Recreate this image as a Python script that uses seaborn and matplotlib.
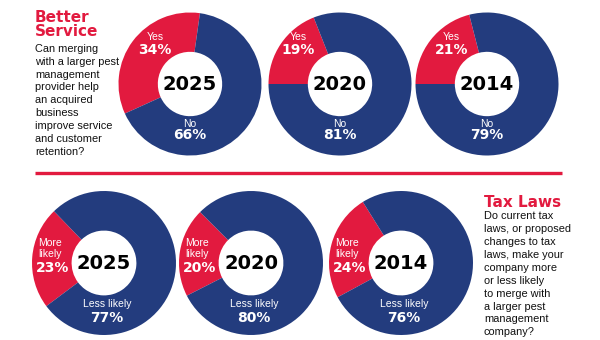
import matplotlib
matplotlib.use("Agg")
import matplotlib.pyplot as plt
from matplotlib.lines import Line2D
import seaborn as sns

# ---------------- data ----------------
years = ["2025", "2020", "2014"]
service_yes = [34, 19, 21]
service_no = [66, 81, 79]
tax_more = [23, 20, 24]
tax_less = [77, 80, 76]

service_title = ["Better", "Service"]
service_question = ["Can merging", "with a larger pest", "management", "provider help",
                    "an acquired", "business", "improve service", "and customer", "retention?"]
tax_title = ["Tax Laws"]
tax_question = ["Do current tax", "laws, or proposed", "changes to tax", "laws, make your",
                "company more", "or less likely", "to merge with", "a larger pest",
                "management", "company?"]

# ---------------- style ----------------
sns.set_theme(style="white")
RED = "#E21A3F"
NAVY = "#233C7E"
palette = sns.color_palette([RED, NAVY])
plt.rcParams["font.family"] = ["DejaVu Sans"]

BODY_FONT = "Liberation Sans"
BODY_SIZE = 7.9

W, H = 600, 340
fig = plt.figure(figsize=(W / 100, H / 100), dpi=100)
fig.patch.set_facecolor("white")


def donut_axes(cx, cy, r):
    ax = fig.add_axes([(cx - r) / W, (H - cy - r) / H, 2 * r / W, 2 * r / H])
    ax.set_axis_off()
    return ax


def draw_donut(ax, values, start):
    ax.pie(values, colors=palette, startangle=start, counterclock=True, radius=1,
           wedgeprops=dict(width=0.55, edgecolor="none"))
    ax.set_xlim(-1, 1)
    ax.set_ylim(-1, 1)


# ---------------- top row: Better Service ----------------
top_cx = [190, 340, 487]
top_starts = [82, 111.6, 104.4]
top_yes_dx = [-0.49, -0.58, -0.50]
for i, yr in enumerate(years):
    ax = donut_axes(top_cx[i], 84, 71.5)
    draw_donut(ax, [service_yes[i], service_no[i]], top_starts[i])
    ax.text(0, 0, yr, ha="center", va="center", fontsize=14, fontweight="bold", color="black")
    ax.text(top_yes_dx[i], 0.66, "Yes", ha="center", va="center", fontsize=7.5,
            family="Liberation Sans", color="white")
    ax.text(top_yes_dx[i], 0.47, f"{service_yes[i]}%", ha="center", va="center",
            fontsize=10, fontweight="bold", color="white")
    ax.text(0, -0.56, "No", ha="center", va="center", fontsize=7.5,
            family="Liberation Sans", color="white")
    ax.text(0, -0.72, f"{service_no[i]}%", ha="center", va="center",
            fontsize=10, fontweight="bold", color="white")

# ---------------- bottom row: Tax Laws ----------------
bot_cx = [104, 251, 401]
bot_starts = [134, 135, 122]
for i, yr in enumerate(years):
    ax = donut_axes(bot_cx[i], 263, 72)
    draw_donut(ax, [tax_more[i], tax_less[i]], bot_starts[i])
    ax.text(0.0, -0.01, yr, ha="center", va="center", fontsize=14, fontweight="bold", color="black")
    ax.text(-0.92, 0.28, "More", ha="left", va="center", fontsize=7.5,
            family="Liberation Sans", color="white")
    ax.text(-0.92, 0.13, "likely", ha="left", va="center", fontsize=7.5,
            family="Liberation Sans", color="white")
    ax.text(-0.94, -0.07, f"{tax_more[i]}%", ha="left", va="center",
            fontsize=10, fontweight="bold", color="white")
    ax.text(0.04, -0.57, "Less likely", ha="center", va="center", fontsize=7.5,
            family="Liberation Sans", color="white")
    ax.text(0.04, -0.77, f"{tax_less[i]}%", ha="center", va="center",
            fontsize=10, fontweight="bold", color="white")

# ---------------- text blocks ----------------
def px(x, y):
    return x / W, 1 - y / H

for j, line in enumerate(service_title):
    fig.text(*px(35, 21.7 + 14.5 * j), line, ha="left", va="baseline",
             fontsize=11, fontweight="bold", color=RED)
for j, line in enumerate(service_question):
    fig.text(*px(35, 51.7 + 12.9 * j), line, ha="left", va="baseline",
             fontsize=BODY_SIZE, family=BODY_FONT, color="#111111")

fig.text(*px(484, 206.7), tax_title[0], ha="left", va="baseline",
         fontsize=11, fontweight="bold", color=RED)
for j, line in enumerate(tax_question):
    fig.text(*px(484, 219.3 + 12.9 * j), line, ha="left", va="baseline",
             fontsize=BODY_SIZE, family=BODY_FONT, color="#111111")

# separator line
fig.add_artist(Line2D([35 / W, 562 / W], [1 - 173.4 / H, 1 - 173.4 / H],
                      transform=fig.transFigure, color=RED, lw=2.4, solid_capstyle="butt"))

fig.savefig("out.png", dpi=100, facecolor="white")
